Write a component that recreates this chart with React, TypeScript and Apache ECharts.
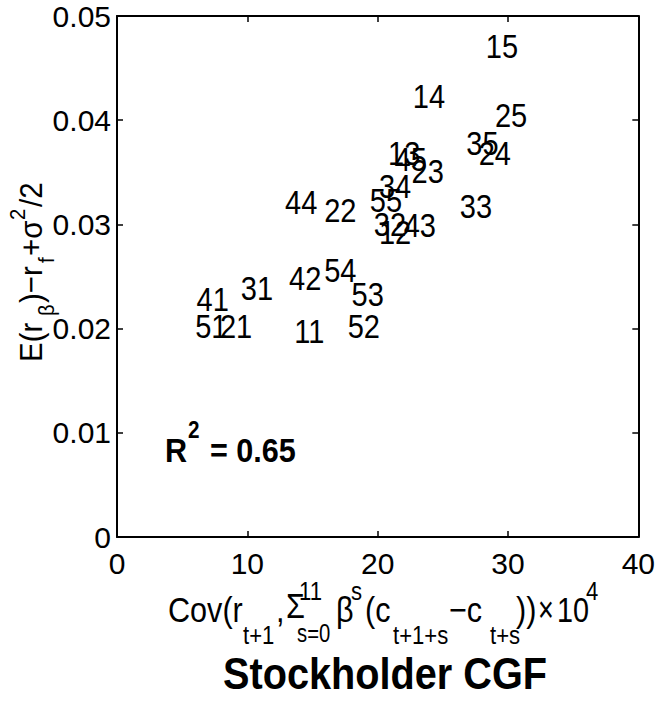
import React, { useEffect, useRef } from 'react';
import * as echarts from 'echarts';

const FONT = '"Liberation Sans", Arial, Helvetica, sans-serif';

// Portfolio labels (size / book-to-market quintiles)
const portfolioLabels = [
  '11', '12', '13', '14', '15',
  '21', '22', '23', '24', '25',
  '31', '32', '33', '34', '35',
  '41', '42', '43', '44', '45',
  '51', '52', '53', '54', '55',
];
// Cov(...) x 10^4
const covValues = [
  13.6, 20.1, 20.8, 22.7, 28.3,
  7.9, 15.9, 22.6, 27.75, 29.0,
  9.5, 19.7, 26.3, 20.1, 26.8,
  6.1, 13.2, 22.0, 12.9, 21.3,
  6.0, 17.7, 18.0, 15.9, 19.4,
];
// E(r) - rf + sigma^2/2
const premiumValues = [
  0.0197, 0.0292, 0.0368, 0.0422, 0.0470,
  0.0202, 0.0313, 0.0350, 0.0368, 0.0404,
  0.0238, 0.0300, 0.0317, 0.0336, 0.0377,
  0.0228, 0.0248, 0.0299, 0.0321, 0.0362,
  0.0202, 0.0202, 0.0232, 0.0255, 0.0323,
];
const yTickLabels = ['0', '0.01', '0.02', '0.03', '0.04', '0.05'];
const xTickLabels = ['0', '10', '20', '30', '40'];
const r2Text = '0.65';

function measure(text: string, size: number, weight: string) {
  const c = document.createElement('canvas');
  const ctx = c.getContext('2d')!;
  ctx.font = `${weight} ${size}px ${FONT}`;
  return ctx.measureText(text).width;
}

// text piece whose baseline sits at (x, base)
function piece(t: string, x: number, base: number, size: number, weight = 'normal', sx = 1) {
  return {
    type: 'text',
    x,
    y: base - 0.35 * size,
    scaleX: sx,
    style: {
      text: t,
      fontSize: size,
      fontFamily: FONT,
      fontWeight: weight,
      fill: '#000',
      align: 'left',
      verticalAlign: 'middle',
    },
  };
}

export default function App() {
  const ref = useRef<HTMLDivElement>(null);

  useEffect(() => {
    if (!ref.current) return;
    const chart = echarts.init(ref.current, undefined, { renderer: 'svg' });

    // x-axis title (typeset piece by piece)
    const M = 36, S = 26, SX = 0.85;
    const B = 622, SUB = B + 22, SUP = B - 22;
    const xTitle = [
      piece('Cov(r', 168, B, M, 'normal', SX),
      piece('t+1', 243, SUB, S, 'normal', SX),
      piece(',', 276, B, M, 'normal', SX),
      piece('Σ', 286, B - 4, M, 'normal', SX),
      piece('11', 299, SUP, S, 'normal', SX),
      piece('s=0', 297, SUB - 2, S, 'normal', 0.78),
      piece('β', 336, B, M, 'normal', SX),
      piece('s', 351, SUP, S, 'normal', SX),
      piece('(c', 365, B, M, 'normal', SX),
      piece('t+1+s', 393, SUB, S, 'normal', SX),
      piece('−c', 449, B, M, 'normal', SX),
      piece('t+s', 490, SUB, S, 'normal', SX),
      piece('))', 516, B, M, 'normal', SX),
      piece('×', 538, B, M, 'normal', 0.75),
      piece('10', 557, B, M, 'normal', 0.8),
      piece('4', 586, SUP, S, 'normal', SX),
    ];

    // y-axis title, local coordinates along the (rotated) baseline
    const YM = 32, YS = 22, YSX = 0.92;
    const yTitle = [
      piece('E(r', 0, 0, YM, 'normal', YSX),
      piece('β', 46, 12, YS, 'normal', YSX),
      piece(')−r', 59, 0, YM, 'normal', YSX),
      piece('f', 99, 12, YS, 'normal', YSX),
      piece('+σ', 106, 0, YM, 'normal', YSX),
      piece('2', 142, -17, YS, 'normal', YSX),
      piece('/2', 155, 0, YM, 'normal', YSX),
    ];

    // R^2 annotation
    const r2 = [
      piece('R', 165, 462, 34, 'bold', 0.9),
      piece('2', 188, 438, 23, 'bold', 0.9),
      piece('= ' + r2Text, 210, 462, 34, 'bold', 0.9),
    ];

    const titleW = measure('Stockholder CGF', 44, 'bold');

    const axisLine = { show: true, onZero: false, lineStyle: { color: '#000', width: 2 } };
    const axisTick = { show: true, inside: true, length: 6, lineStyle: { color: '#000', width: 1.5 } };

    chart.setOption({
      animation: false,
      backgroundColor: '#fff',
      grid: { left: 117, top: 16, right: 17, bottom: 167, containLabel: false },
      xAxis: [
        {
          type: 'value', min: 0, max: 40, interval: 10, position: 'bottom',
          axisLine, axisTick,
          splitLine: { show: false },
          axisLabel: {
            fontSize: 30, fontFamily: FONT, color: '#000', margin: 11,
            formatter: (v: number) => xTickLabels[Math.round(v / 10)] ?? String(v),
          },
        },
        {
          type: 'value', min: 0, max: 40, interval: 10, position: 'top',
          axisLine, axisTick, splitLine: { show: false }, axisLabel: { show: false },
        },
      ],
      yAxis: [
        {
          type: 'value', min: 0, max: 0.05, interval: 0.01, position: 'left',
          axisLine, axisTick,
          splitLine: { show: false },
          axisLabel: {
            fontSize: 30, fontFamily: FONT, color: '#000', margin: 6,
            formatter: (v: number) => yTickLabels[Math.round(v / 0.01)] ?? String(v),
          },
        },
        {
          type: 'value', min: 0, max: 0.05, interval: 0.01, position: 'right',
          axisLine, axisTick, splitLine: { show: false }, axisLabel: { show: false },
        },
      ],
      series: [
        {
          type: 'custom',
          xAxisIndex: 0,
          yAxisIndex: 0,
          data: covValues.map((x, i) => [x, premiumValues[i]]),
          renderItem: (params: any, api: any) => {
            const p = api.coord([api.value(0), api.value(1)]);
            return {
              type: 'text',
              x: p[0],
              y: p[1],
              scaleX: 0.88,
              style: {
                text: portfolioLabels[params.dataIndex],
                fontSize: 33,
                fontFamily: FONT,
                fill: '#000',
                align: 'left',
                verticalAlign: 'middle',
              },
            };
          },
        },
      ],
      graphic: [
        { type: 'group', x: 0, y: 0, children: xTitle },
        { type: 'group', x: 42, y: 362, rotation: Math.PI / 2, children: yTitle },
        { type: 'group', x: 0, y: 0, children: r2 },
        {
          type: 'text',
          x: 385 - 162,
          y: 674,
          scaleX: 324 / titleW,
          style: {
            text: 'Stockholder CGF',
            fontSize: 44,
            fontWeight: 'bold',
            fontFamily: FONT,
            fill: '#000',
            align: 'left',
            verticalAlign: 'middle',
          },
        },
      ],
    });

    return () => chart.dispose();
  }, []);

  return (
    <div
      ref={ref}
      style={{ position: 'fixed', left: 0, top: 0, width: 658, height: 704, background: '#fff' }}
    />
  );
}
